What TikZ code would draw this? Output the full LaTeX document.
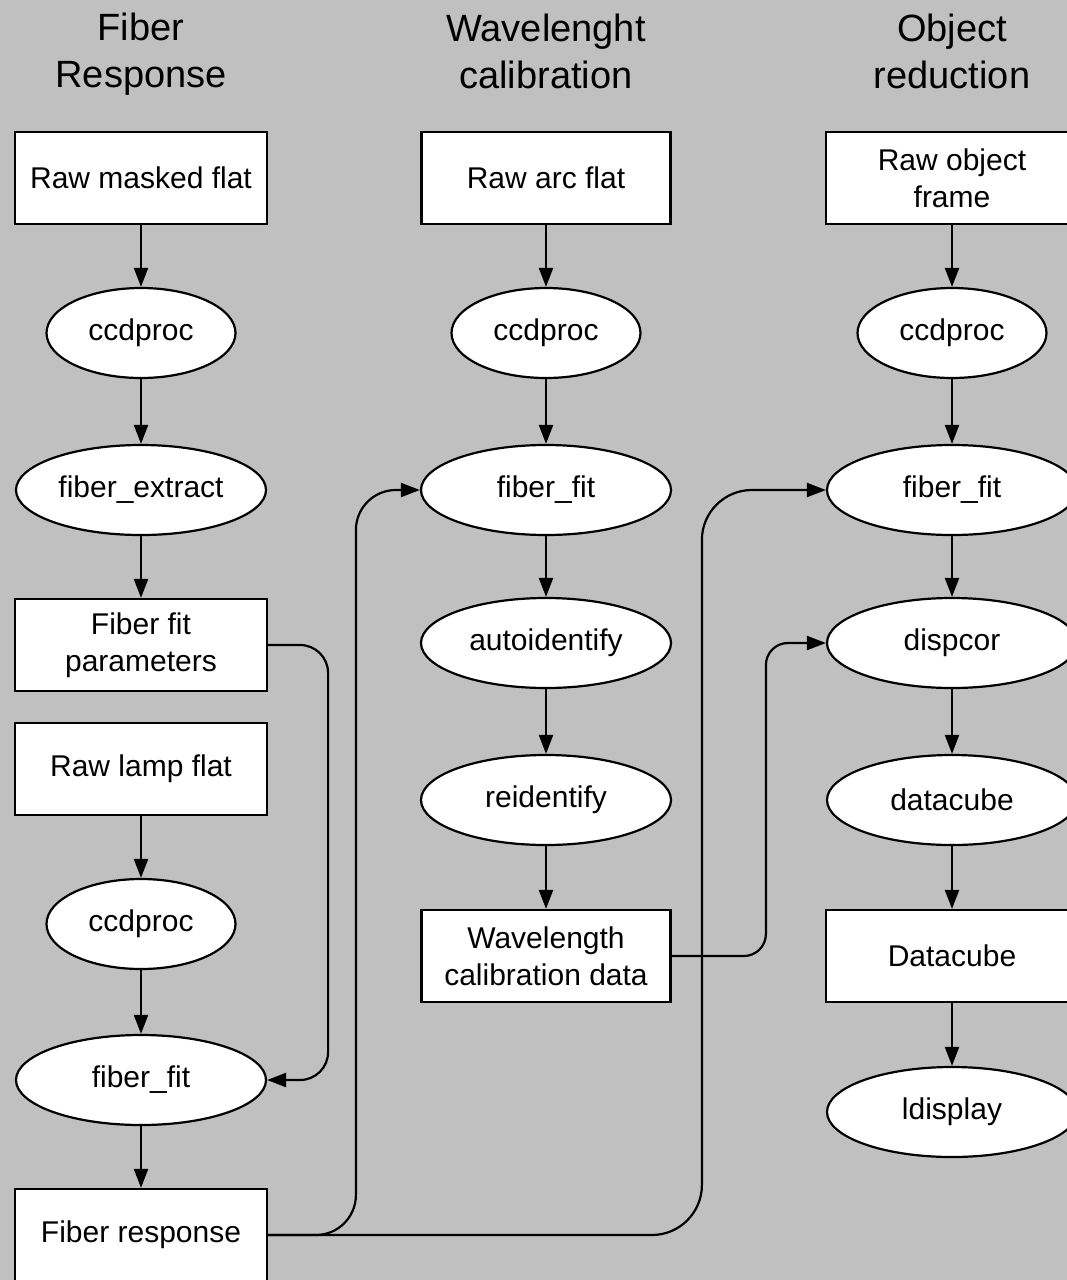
\documentclass[tikz,border=0pt]{standalone}
\usepackage{fontspec}
\setmainfont{Liberation Sans}
\usetikzlibrary{shapes.geometric,arrows.meta}
\definecolor{bggray}{HTML}{C0C0C0}
\newcommand\myNodeFont{\fontsize{30}{37}\selectfont}
\newcommand\myTitleFont{\fontsize{38}{47}\selectfont}
\begin{document}
\begin{tikzpicture}[x=1pt,y=-1pt,
  box/.style={draw, fill=white, line width=2.2pt, minimum width=252pt, minimum height=92pt, inner sep=0pt, align=center, font=\myNodeFont},
  oval/.style={ellipse, draw, fill=white, line width=2.2pt, minimum width=250pt, minimum height=90pt, inner sep=0pt, align=center, font=\myNodeFont},
  smalloval/.style={oval, minimum width=189pt},
  title/.style={align=center, font=\myTitleFont, inner sep=0pt},
  arr/.style={-{Triangle[length=19pt,width=14pt]}, line width=2.2pt},
]
\useasboundingbox (0,0) rectangle (1067,1280);
\fill[bggray] (0,0) rectangle (1067,1280);
\clip (0,0) rectangle (1067,1280);

% titles
\node[title] (t1) at (141,54) {Fiber\\Response};
\node[title] (t2) at (546,51) {Wavelenght\\calibration};
\node[title] (t3) at (952,51) {Object\\reduction};

% column 1
\node[box] (rmf) at (141,178) {Raw masked flat};
\node[smalloval] (cc1) at (141,333) {ccdproc};
\node[oval] (fe) at (141,490) {fiber\_extract};
\node[box] (ffp) at (141,645) {Fiber fit\\parameters};
\node[box] (rlf) at (141,769) {Raw lamp flat};
\node[smalloval] (cc1b) at (141,924) {ccdproc};
\node[oval] (ff1) at (141,1080) {fiber\_fit};
\node[box] (fr) at (141,1235) {Fiber response};

% column 2
\node[box, minimum width=249pt] (raf) at (546,178) {Raw arc flat};
\node[smalloval] (cc2) at (546,333) {ccdproc};
\node[oval] (ff2) at (546,490) {fiber\_fit};
\node[oval] (ai) at (546,643) {autoidentify};
\node[oval] (ri) at (546,800) {reidentify};
\node[box, minimum width=249pt] (wcd) at (546,956) {Wavelength\\calibration data};

% column 3
\node[box] (rof) at (952,178) {Raw object\\frame};
\node[smalloval] (cc3) at (952,333) {ccdproc};
\node[oval] (ff3) at (952,490) {fiber\_fit};
\node[oval] (dc) at (952,643) {dispcor};
\node[oval] (dcu) at (952,800) {datacube};
\node[box] (dcb) at (952,956) {Datacube};
\node[oval] (ld) at (952,1112) {ldisplay};

% vertical flow
\draw[arr] (rmf) -- (cc1);
\draw[arr] (cc1) -- (fe);
\draw[arr] (fe) -- (ffp);
\draw[arr] (rlf) -- (cc1b);
\draw[arr] (cc1b) -- (ff1);
\draw[arr] (ff1) -- (fr);

\draw[arr] (raf) -- (cc2);
\draw[arr] (cc2) -- (ff2);
\draw[arr] (ff2) -- (ai);
\draw[arr] (ai) -- (ri);
\draw[arr] (ri) -- (wcd);

\draw[arr] (rof) -- (cc3);
\draw[arr] (cc3) -- (ff3);
\draw[arr] (ff3) -- (dc);
\draw[arr] (dc) -- (dcu);
\draw[arr] (dcu) -- (dcb);
\draw[arr] (dcb) -- (ld);

% cross connectors
\draw[arr, rounded corners=28pt] (ffp.east) -| ([xshift=61pt]ff1.east) -- (ff1.east);
\draw[arr, rounded corners=40pt] (fr.east) -| ([xshift=-64pt]ff2.west) -- (ff2.west);
\draw[arr, rounded corners=50pt] (fr.east) -| ([xshift=-124pt]ff3.west) -- (ff3.west);
\draw[arr, rounded corners=22pt] (wcd.east) -| ([xshift=-60pt]dc.west) -- (dc.west);
\end{tikzpicture}
\end{document}
